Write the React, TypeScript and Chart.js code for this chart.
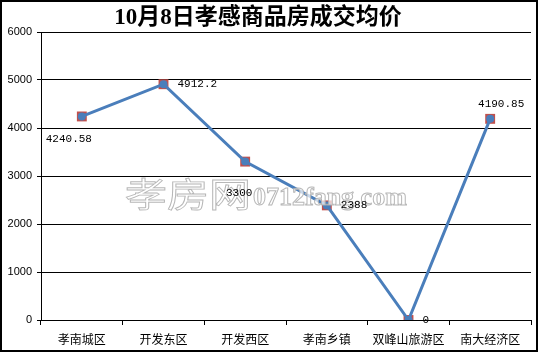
import React, { useEffect, useRef } from "react";
import { Chart, registerables } from "chart.js";

Chart.register(...registerables);

const titleText = "10月8日孝感商品房成交均价";
const categories = ["孝南城区", "开发东区", "开发西区", "孝南乡镇", "双峰山旅游区", "南大经济区"];
const prices = [4240.58, 4912.2, 3300, 2388, 0, 4190.85];
const priceLabels = ["4240.58", "4912.2", "3300", "2388", "0", "4190.85"];
const labelPlacement = ["belowLeft", "right", "below", "right", "right", "above"];
const yMin = 0;
const yMax = 6000;
const yStep = 1000;
const watermarkCn = "孝房网";
const watermarkEn = "0712fang.com";

const decorPlugin = {
  id: "decor",
  beforeDraw(chart: any) {
    const ctx = chart.ctx;
    ctx.save();
    ctx.fillStyle = "#ffffff";
    ctx.fillRect(0, 0, chart.width, chart.height);
    ctx.restore();
  },
  afterDatasetsDraw(chart: any) {
    const ctx = chart.ctx;
    ctx.save();
    // watermark
    ctx.textBaseline = "alphabetic";
    ctx.textAlign = "left";
    ctx.lineWidth = 1;
    ctx.strokeStyle = "rgba(175,175,175,0.9)";
    ctx.fillStyle = "rgba(255,255,255,0.7)";
    ctx.font = "40px 'Noto Sans CJK SC', sans-serif";
    ctx.save();
    ctx.translate(125, 207);
    ctx.scale(1.05, 0.85);
    ctx.fillText(watermarkCn, 0, 0);
    ctx.strokeText(watermarkCn, 0, 0);
    ctx.restore();
    ctx.font = "bold 26px 'Liberation Serif', serif";
    ctx.fillText(watermarkEn, 253, 205);
    ctx.strokeText(watermarkEn, 253, 205);
    ctx.restore();

    const meta = chart.getDatasetMeta(1);
    ctx.save();
    ctx.font = "11px 'Liberation Mono', 'DejaVu Sans Mono', monospace";
    ctx.fillStyle = "#000";
    ctx.textBaseline = "middle";
    meta.data.forEach((pt: any, i: number) => {
      const t = priceLabels[i];
      const p = labelPlacement[i];
      let x = pt.x;
      let y = pt.y;
      if (p === "right") {
        ctx.textAlign = "left";
        x = pt.x + 14;
      } else if (p === "belowLeft") {
        ctx.textAlign = "center";
        x = pt.x - 13;
        y = pt.y + 23;
      } else if (p === "below") {
        ctx.textAlign = "center";
        x = pt.x - 6;
        y = pt.y + 31;
      } else {
        ctx.textAlign = "center";
        x = pt.x + 11;
        y = pt.y - 15;
      }
      ctx.fillText(t, x, y);
    });
    ctx.restore();
  },
  afterDraw(chart: any) {
    const ctx = chart.ctx;
    ctx.save();
    // title
    ctx.fillStyle = "#000";
    ctx.textAlign = "center";
    ctx.textBaseline = "middle";
    ctx.font = "bold 23px 'Liberation Serif', 'Noto Sans CJK SC', serif";
    ctx.fillText(titleText, 258, 18);
    // frame
    ctx.strokeStyle = "#000";
    ctx.lineWidth = 2;
    ctx.strokeRect(1, 1, chart.width - 2, chart.height - 3);
    ctx.restore();
  },
};

export default function App() {
  const ref = useRef<HTMLCanvasElement | null>(null);
  useEffect(() => {
    document.body.style.margin = "0";
    const canvas = ref.current;
    if (!canvas) return;
    const chart = new Chart(canvas, {
      type: "line",
      data: {
        labels: categories,
        datasets: [
          {
            data: prices,
            showLine: false,
            pointStyle: "rect",
            pointRadius: 7,
            pointBackgroundColor: "#C0504D",
            pointBorderColor: "#C0504D",
            pointBorderWidth: 0,
            order: 2,
          },
          {
            data: prices,
            borderColor: "#4A7EBB",
            borderWidth: 3,
            pointStyle: "circle",
            pointRadius: 4,
            pointBackgroundColor: "#4A7EBB",
            pointBorderColor: "#4A7EBB",
            pointBorderWidth: 0,
            tension: 0,
            order: 1,
          },
        ],
      },
      options: {
        responsive: false,
        animation: false,
        devicePixelRatio: 1,
        layout: { padding: { top: 32, right: 4, left: 0, bottom: 0 } },
        plugins: { legend: { display: false }, tooltip: { enabled: false }, title: { display: false } },
        scales: {
          x: {
            offset: true,
            grid: {
              offset: true,
              drawOnChartArea: false,
              drawTicks: true,
              tickLength: 5,
              tickColor: "#000",
              color: "#000",
            },
            border: { display: true, color: "#000", width: 1 },
            ticks: {
              color: "#000",
              padding: 7,
              maxRotation: 0,
              autoSkip: false,
              font: { family: "'Noto Sans CJK SC', sans-serif", size: 12 },
            },
            afterFit: (s: any) => {
              s.height = 33;
            },
          },
          y: {
            min: yMin,
            max: yMax,
            grid: {
              color: "#000",
              lineWidth: 1,
              drawTicks: true,
              tickLength: 4,
              tickColor: "#000",
            },
            border: { display: true, color: "#000", width: 1 },
            ticks: {
              stepSize: yStep,
              color: "#000",
              padding: 5,
              font: { family: "'Liberation Sans', Arial, sans-serif", size: 11 },
              callback: (v: any) => String(v),
            },
            afterFit: (s: any) => {
              s.width = 41;
            },
          },
        },
      },
      plugins: [decorPlugin],
    } as any);
    return () => chart.destroy();
  }, []);
  return <canvas ref={ref} width={538} height={353} style={{ display: "block" }} />;
}
